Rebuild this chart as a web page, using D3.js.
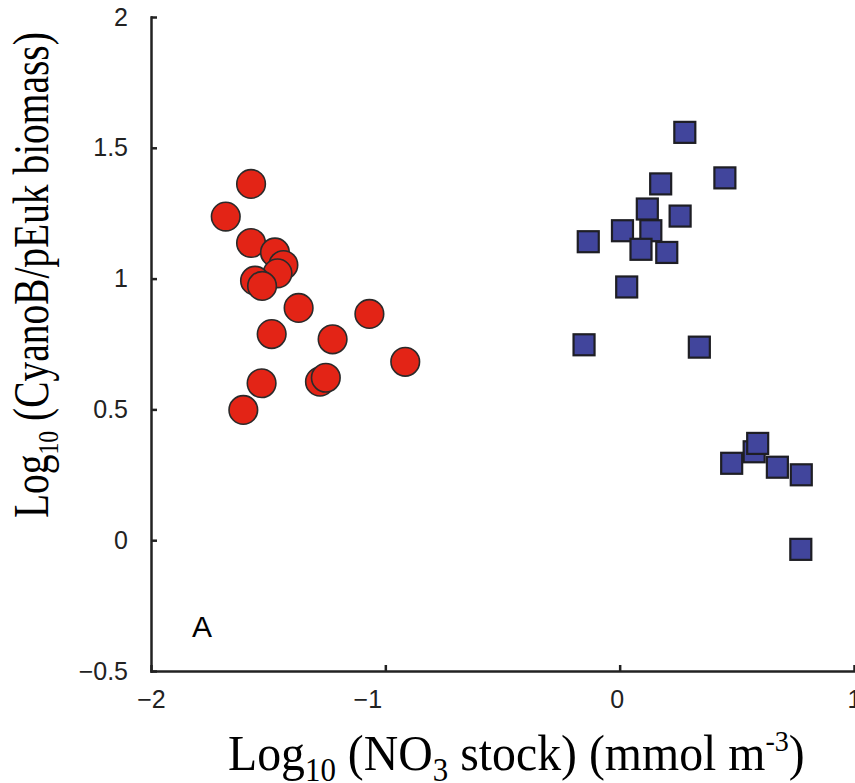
<!DOCTYPE html>
<html>
<head>
<meta charset="utf-8">
<script src="https://cdn.jsdelivr.net/npm/d3@7"></script>
<style>
  body { margin: 0; background: #fff; }
  .axis text { font-family: "Liberation Sans", Arial, sans-serif; font-size: 25px; fill: #222; }
  .axis path, .axis line { stroke: #222; stroke-width: 2.5; }
  .title { font-family: "Liberation Serif", "Times New Roman", serif; fill: #000; }
</style>
</head>
<body>
<script>
// low-nitrate group (red circles)
const circleX = [-1.573, -1.681, -1.573, -1.471, -1.435, -1.46, -1.556, -1.526, -1.370, -1.068,
                 -1.485, -1.225, -0.915, -1.528, -1.279, -1.254, -1.606];
const circleY = [1.362, 1.237, 1.136, 1.100, 1.052, 1.02, 0.992, 0.972, 0.888, 0.865,
                 0.788, 0.768, 0.682, 0.600, 0.606, 0.621, 0.498];

// high-nitrate group (blue squares)
const squareX = [0.278, 0.449, 0.175, 0.118, 0.258, 0.012, 0.133, -0.134, 0.091, 0.201,
                 0.030, -0.152, 0.340, 0.478, 0.574, 0.589, 0.673, 0.775, 0.773];
const squareY = [1.559, 1.385, 1.362, 1.266, 1.239, 1.183, 1.183, 1.141, 1.112, 1.100,
                 0.968, 0.747, 0.738, 0.294, 0.338, 0.370, 0.279, 0.250, -0.035];

const xTicks = [-2, -1, 0, 1];
const yTicks = [-0.5, 0, 0.5, 1, 1.5, 2];

const w = 855, h = 783;
const fmt = d => String(d).replace("-", "\u2212");

const svg = d3.select("body").append("svg")
  .attr("width", w)
  .attr("height", h);

const xScale = d3.scaleLinear().domain([-2, 1]).range([151, 854]);
const yScale = d3.scaleLinear().domain([-0.5, 2]).range([671, 17]);

const gx = svg.append("g")
  .attr("class", "axis")
  .attr("transform", "translate(0,671)")
  .call(d3.axisBottom(xScale).tickValues(xTicks).tickFormat(fmt).tickSizeInner(-6).tickSizeOuter(0).tickPadding(19));
// the -1 label sits left of its tick in the original
gx.selectAll(".tick text").filter(d => d === -1).attr("dx", -18);
gx.selectAll(".tick text").filter(d => d === 0).attr("dx", -3);

svg.append("g")
  .attr("class", "axis")
  .attr("transform", "translate(151,0)")
  .call(d3.axisLeft(yScale).tickValues(yTicks).tickFormat(fmt).tickSizeInner(-6).tickSizeOuter(0).tickPadding(23));

svg.selectAll(".axis .domain").attr("stroke-linecap", "square");

// circles
svg.selectAll("circle")
  .data(circleX.map((x, i) => [x, circleY[i]]))
  .enter()
  .append("circle")
  .attr("cx", d => xScale(d[0]))
  .attr("cy", d => yScale(d[1]))
  .attr("r", 14.3)
  .attr("fill", "#e32416")
  .attr("stroke", "#2a2a2a")
  .attr("stroke-width", 1.6);

// squares
const side = 21;
svg.selectAll("rect.sq")
  .data(squareX.map((x, i) => [x, squareY[i]]))
  .enter()
  .append("rect")
  .attr("class", "sq")
  .attr("x", d => xScale(d[0]) - side / 2)
  .attr("y", d => yScale(d[1]) - side / 2)
  .attr("width", side)
  .attr("height", side)
  .attr("fill", "#41459c")
  .attr("stroke", "#1e1e24")
  .attr("stroke-width", 2.2);

// panel letter
svg.append("text")
  .attr("x", 192)
  .attr("y", 637)
  .style("font-family", "Liberation Sans, Arial, sans-serif")
  .style("font-size", "30px")
  .text("A");

// axis titles (narrow serif, squeezed to the original's width)
function squeeze(sel, target) {
  const bw = sel.node().getBBox().width;
  return bw > 0 ? target / bw : 1;
}

const xt = svg.append("text")
  .attr("class", "title")
  .style("font-size", "51px");
xt.append("tspan").text("Log");
xt.append("tspan").attr("font-size", "33px").attr("dy", 11).text("10");
xt.append("tspan").attr("dy", -11).text(" (NO");
xt.append("tspan").attr("font-size", "33px").attr("dy", 11).text("3");
xt.append("tspan").attr("dy", -11).text(" stock) (mmol m");
xt.append("tspan").attr("font-size", "30px").attr("dy", -19).text("-3");
xt.append("tspan").attr("dy", 19).text(")");
const kx = squeeze(xt, 577);
xt.attr("transform", `translate(228,770) scale(${kx},1)`);

const yt = svg.append("text")
  .attr("class", "title")
  .style("font-size", "50px");
yt.append("tspan").text("Log");
yt.append("tspan").attr("font-size", "30px").attr("dy", 10).text("10");
yt.append("tspan").attr("dy", -10).text(" (CyanoB/pEuk biomass)");
const ky = squeeze(yt, 486);
yt.attr("transform", `translate(48,518) rotate(-90) scale(${ky},1)`);
</script>
</body>
</html>
